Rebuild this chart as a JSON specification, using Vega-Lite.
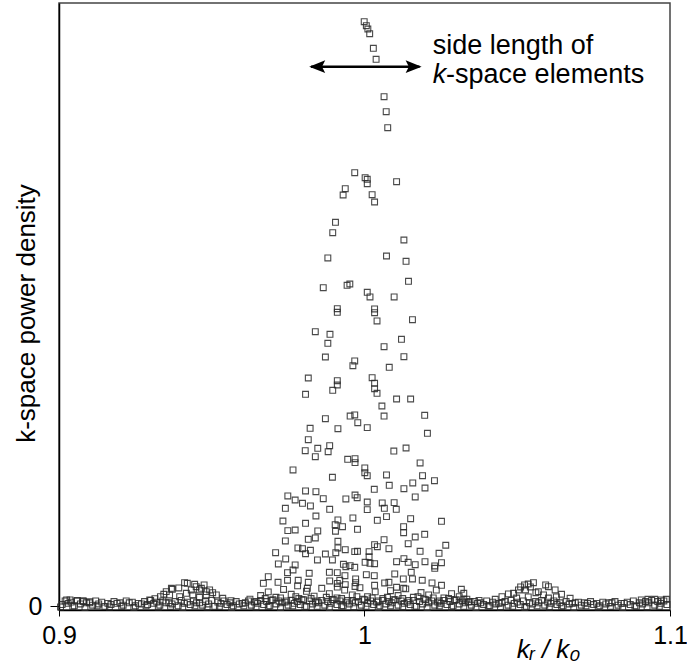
{
"$schema": "https://vega.github.io/schema/vega-lite/v6.json",
"width": 611, "height": 607,
"autosize": "none",
"padding": {"left": 59, "top": 3, "right": 17, "bottom": 55},
"background": "white",
"config": {"view": {"stroke": "#444", "strokeWidth": 1.5}, "font": "Liberation Sans"},
"encoding": {
 "x": {"field": "k", "type": "quantitative", "scale": {"domain": [0.9, 1.1], "nice": false, "zero": false},
  "axis": {"values": [0.9, 1, 1.1], "format": "~g", "title": "kᵣ / k₀", "titleFontStyle": "italic", "titleFontWeight": "normal", "titleFontSize": 26, "titleColor": "black", "titleX": 489, "titleY": 47, "titleAlign": "center", "titleBaseline": "alphabetic", "labelFontSize": 25, "labelColor": "black", "labelPadding": 7, "labelFlush": false, "labelOverlap": false, "labelBound": false, "tickSize": 6, "tickColor": "black", "domainColor": "black", "domainWidth": 1.5, "grid": false}},
 "y": {"field": "p", "type": "quantitative", "scale": {"domain": [-0.006, 1], "nice": false, "zero": false},
  "axis": {"values": [0], "title": "k-space power density", "titleFontWeight": "normal", "titleFontSize": 26, "titleColor": "black", "titleX": -25, "titleY": 310, "titleAngle": 270, "titleAlign": "center", "titleBaseline": "alphabetic", "labelFontSize": 25, "labelColor": "black", "labelPadding": 8, "tickSize": 9, "tickColor": "black", "domainColor": "black", "domainWidth": 1.5, "grid": false}}
},
"layer": [
{"data": {"values": [
{"k":0.9999,"p":0.9690},{"k":1.0006,"p":0.9624},{"k":1.0011,"p":0.9569},{"k":1.0017,"p":0.9491},{"k":1.0029,"p":0.9249},{"k":1.0038,"p":0.9067},{"k":1.0064,"p":0.8447},{"k":1.0071,"p":0.8199},{"k":1.0076,"p":0.7933},
{"k":0.9968,"p":0.7188},{"k":1.0002,"p":0.7105},{"k":1.0009,"p":0.7078},{"k":1.0009,"p":0.7005},{"k":1.0105,"p":0.7038},{"k":0.9937,"p":0.6922},{"k":0.9930,"p":0.6818},{"k":1.0025,"p":0.6823},{"k":1.0033,"p":0.6702},{"k":0.9905,"p":0.6366},{"k":0.9896,"p":0.6193},{"k":1.0129,"p":0.6072},{"k":0.9880,"p":0.5774},{"k":1.0072,"p":0.5807},{"k":1.0136,"p":0.5719},{"k":0.9865,"p":0.5282},{"k":0.9943,"p":0.5322},{"k":0.9952,"p":0.5343},{"k":1.0144,"p":0.5388},{"k":1.0009,"p":0.5206},{"k":1.0018,"p":0.5128},{"k":1.0097,"p":0.5128},{"k":0.9911,"p":0.4934},{"k":0.9911,"p":0.4874},{"k":1.0033,"p":0.4929},{"k":1.0033,"p":0.4867},{"k":1.0041,"p":0.4730},{"k":1.0157,"p":0.4751},{"k":0.9839,"p":0.4553},{"k":0.9887,"p":0.4509},{"k":0.9880,"p":0.4360},{"k":1.0121,"p":0.4427},{"k":1.0064,"p":0.4304},{"k":0.9872,"p":0.4133},{"k":0.9968,"p":0.4067},{"k":0.9962,"p":0.3989},{"k":1.0129,"p":0.4138},{"k":1.0081,"p":0.3963},{"k":0.9816,"p":0.3785},{"k":0.9911,"p":0.3740},{"k":0.9911,"p":0.3669},{"k":0.9896,"p":0.3581},{"k":1.0025,"p":0.3790},{"k":1.0033,"p":0.3697},{"k":1.0033,"p":0.3608},{"k":1.0041,"p":0.3532},{"k":0.9807,"p":0.3515},{"k":1.0105,"p":0.3437},{"k":1.0151,"p":0.3437},
{"k":1.0057,"p":0.3321},{"k":0.9872,"p":0.3111},{"k":0.9953,"p":0.3155},{"k":0.9968,"p":0.3172},{"k":0.9978,"p":0.3044},{"k":1.0064,"p":0.3155},{"k":1.0197,"p":0.3167},{"k":0.9822,"p":0.2952},{"k":0.9913,"p":0.2945},{"k":1.0009,"p":0.2962},{"k":1.0206,"p":0.2869},{"k":0.9816,"p":0.2763},{"k":0.9886,"p":0.2663},{"k":0.9847,"p":0.2620},{"k":0.9806,"p":0.2580},{"k":0.9881,"p":0.2564},{"k":0.9839,"p":0.2481},{"k":1.0096,"p":0.2575},{"k":1.0136,"p":0.2625},{"k":0.9945,"p":0.2438},{"k":0.9969,"p":0.2448},{"k":0.9969,"p":0.2382},{"k":1.0182,"p":0.2377},{"k":1.0001,"p":0.2294},{"k":1.0001,"p":0.2216},{"k":1.0009,"p":0.2166},{"k":0.9766,"p":0.2261},{"k":0.9895,"p":0.2140},{"k":1.0072,"p":0.2178},{"k":1.0190,"p":0.2166},{"k":1.0229,"p":0.2083},{"k":1.0158,"p":0.2045},{"k":1.0081,"p":0.2007},{"k":1.0129,"p":0.1951},{"k":1.0198,"p":0.1962},{"k":1.0032,"p":0.1941},{"k":0.9807,"p":0.1913},{"k":0.9841,"p":0.1901},{"k":0.9865,"p":0.1785},{"k":0.9749,"p":0.1830},{"k":0.9773,"p":0.1763},{"k":0.9797,"p":0.1709},{"k":0.9823,"p":0.1664},{"k":0.9939,"p":0.1780},{"k":0.9969,"p":0.1846},{"k":0.9976,"p":0.1801},{"k":1.0166,"p":0.1813},{"k":1.0009,"p":0.1730},{"k":1.0058,"p":0.1714},{"k":1.0097,"p":0.1719},{"k":0.9741,"p":0.1626},{"k":0.9886,"p":0.1609},{"k":1.0009,"p":0.1603},{"k":1.0065,"p":0.1626},{"k":1.0104,"p":0.1609},{"k":0.9841,"p":0.1498},{"k":0.9962,"p":0.1465},{"k":1.0072,"p":0.1487},{"k":1.0151,"p":0.1453},{"k":1.0252,"p":0.1410},{"k":0.9733,"p":0.1415},{"k":0.9807,"p":0.1377},{"k":0.9913,"p":0.1432},{"k":0.9904,"p":0.1354},{"k":0.9928,"p":0.1321},{"k":1.0042,"p":0.1427},{"k":0.9977,"p":0.1278},{"k":0.9749,"p":0.1255},{"k":0.9773,"p":0.1266},{"k":0.9847,"p":0.1250},{"k":0.9905,"p":0.1245},{"k":1.0128,"p":0.1321},{"k":1.0128,"p":0.1221},{"k":1.0166,"p":0.1150},{"k":1.0197,"p":0.1195},{"k":1.0266,"p":0.1013},{"k":0.9741,"p":0.1084},{"k":0.9816,"p":0.1112},{"k":0.9839,"p":0.1134},{"k":0.9913,"p":0.1079},{"k":1.0064,"p":0.1105},{"k":1.0143,"p":0.1039},{"k":0.9782,"p":0.0968},{"k":0.9797,"p":0.0956},{"k":0.9807,"p":0.0873},{"k":0.9823,"p":0.0930},{"k":0.9913,"p":0.0968},{"k":0.9937,"p":0.0940},{"k":0.9968,"p":0.0907},{"k":0.9977,"p":0.0913},{"k":1.0015,"p":0.0907},{"k":1.0015,"p":0.0824},{"k":1.0033,"p":0.1023},{"k":1.0042,"p":0.0989},{"k":1.0080,"p":0.0956},{"k":0.9709,"p":0.0890},{"k":0.9872,"p":0.0868},{"k":0.9906,"p":0.0890},{"k":0.9846,"p":0.0769},{"k":0.9895,"p":0.0769},{"k":1.0182,"p":0.0913},{"k":1.0244,"p":0.0880},{"k":0.9718,"p":0.0703},{"k":0.9773,"p":0.0686},{"k":0.9742,"p":0.0786},{"k":1.0105,"p":0.0741},{"k":1.0129,"p":0.0791},{"k":1.0143,"p":0.0731},{"k":1.0166,"p":0.0691},{"k":1.0198,"p":0.0741},{"k":1.0230,"p":0.0670},{"k":1.0252,"p":0.0724},{"k":0.9931,"p":0.0698},{"k":0.9939,"p":0.0658},{"k":0.9953,"p":0.0675},{"k":0.9968,"p":0.0648},{"k":1.0002,"p":0.0731},{"k":1.0018,"p":0.0714},{"k":1.0033,"p":0.0708},{"k":0.9685,"p":0.0492},{"k":0.9748,"p":0.0559},{"k":0.9766,"p":0.0603},{"k":0.9819,"p":0.0549},{"k":0.9885,"p":0.0565},{"k":0.9911,"p":0.0559},{"k":0.9936,"p":0.0509},{"k":1.0006,"p":0.0525},{"k":1.0032,"p":0.0509},{"k":1.0099,"p":0.0537},{"k":1.0153,"p":0.0565},{"k":1.0230,"p":0.0631},{"k":0.9669,"p":0.0383},{"k":0.9717,"p":0.0399},{"k":0.9748,"p":0.0433},{"k":0.9783,"p":0.0433},{"k":0.9816,"p":0.0399},{"k":0.9886,"p":0.0421},{"k":0.9919,"p":0.0433},{"k":0.9971,"p":0.0454},{"k":0.9971,"p":0.0393},{"k":1.0066,"p":0.0388},{"k":1.0080,"p":0.0399},{"k":1.0105,"p":0.0317},{"k":1.0127,"p":0.0454},{"k":1.0157,"p":0.0454},{"k":1.0189,"p":0.0433},{"k":1.0221,"p":0.0388},{"k":1.0252,"p":0.0350},{"k":1.0317,"p":0.0283},{"k":1.0325,"p":0.0217},
{"k":0.9660,"p":0.018},{"k":0.9685,"p":0.024},{"k":0.9710,"p":0.015},{"k":0.9735,"p":0.028},{"k":0.9760,"p":0.020},{"k":0.9785,"p":0.013},{"k":0.9810,"p":0.025},{"k":0.9835,"p":0.017},{"k":0.9860,"p":0.030},{"k":0.9885,"p":0.021},{"k":0.9910,"p":0.014},{"k":0.9935,"p":0.027},{"k":0.9960,"p":0.019},{"k":0.9985,"p":0.031},{"k":1.0010,"p":0.016},{"k":1.0035,"p":0.024},{"k":1.0060,"p":0.013},{"k":1.0085,"p":0.026},{"k":1.0110,"p":0.018},{"k":1.0135,"p":0.029},{"k":1.0160,"p":0.015},{"k":1.0185,"p":0.023},{"k":1.0210,"p":0.019},{"k":1.0235,"p":0.027},{"k":1.0260,"p":0.014},{"k":1.0285,"p":0.021},{"k":1.0310,"p":0.016},{"k":1.0335,"p":0.012},
{"k":0.9781,"p":0.034},{"k":0.9911,"p":0.032},{"k":0.9911,"p":0.038},{"k":0.9937,"p":0.036},{"k":0.9969,"p":0.033},{"k":1.0033,"p":0.035},{"k":1.0128,"p":0.030},{"k":0.9813,"p":0.030},
{"k":0.9625,"p":0.012},{"k":0.9645,"p":0.008},{"k":0.9675,"p":0.013},{"k":0.9695,"p":0.010},{"k":0.9725,"p":0.014},{"k":0.9745,"p":0.009},{"k":0.9775,"p":0.016},{"k":0.9795,"p":0.011},{"k":0.9825,"p":0.013},{"k":0.9845,"p":0.009},{"k":0.9875,"p":0.015},{"k":0.9895,"p":0.011},{"k":0.9925,"p":0.013},{"k":0.9945,"p":0.010},{"k":0.9975,"p":0.016},{"k":0.9995,"p":0.012},{"k":1.0025,"p":0.014},{"k":1.0045,"p":0.009},{"k":1.0075,"p":0.015},{"k":1.0095,"p":0.011},{"k":1.0125,"p":0.013},{"k":1.0145,"p":0.010},{"k":1.0175,"p":0.016},{"k":1.0195,"p":0.012},{"k":1.0225,"p":0.014},{"k":1.0245,"p":0.009},{"k":1.0275,"p":0.013},{"k":1.0295,"p":0.010},{"k":1.0325,"p":0.012},{"k":1.0345,"p":0.008},{"k":1.0375,"p":0.010},
{"k":0.9420,"p":0.0383},{"k":0.9444,"p":0.0366},{"k":0.9475,"p":0.0355},{"k":0.9460,"p":0.0272},{"k":0.9482,"p":0.0244},{"k":0.9392,"p":0.0305},{"k":0.9371,"p":0.0283},{"k":0.9351,"p":0.0244},{"k":0.9343,"p":0.0201},{"k":0.9332,"p":0.0161},{"k":0.9314,"p":0.0128},{"k":0.9297,"p":0.0106},{"k":0.9503,"p":0.0227},{"k":0.9515,"p":0.0189},{"k":0.9536,"p":0.0134},{"k":0.9563,"p":0.0094},{"k":0.9411,"p":0.0393},{"k":0.9449,"p":0.0326},{"k":0.9466,"p":0.0300},{"k":0.9493,"p":0.0272},{"k":0.9433,"p":0.0272},{"k":0.9417,"p":0.0217},{"k":0.9368,"p":0.0300},{"k":0.9362,"p":0.0189},{"k":0.9482,"p":0.0189},{"k":0.9438,"p":0.0189},{"k":0.9395,"p":0.0161},{"k":0.9460,"p":0.0151},
{"k":1.0553,"p":0.0393},{"k":1.0536,"p":0.0371},{"k":1.0524,"p":0.0355},{"k":1.0593,"p":0.0355},{"k":1.0602,"p":0.0326},{"k":1.0624,"p":0.0272},{"k":1.0569,"p":0.0244},{"k":1.0561,"p":0.0227},{"k":1.0645,"p":0.0201},{"k":1.0504,"p":0.0272},{"k":1.0488,"p":0.0217},{"k":1.0471,"p":0.0206},{"k":1.0450,"p":0.0161},{"k":1.0673,"p":0.0134},{"k":1.0428,"p":0.0118},{"k":1.0527,"p":0.0272},{"k":1.0543,"p":0.0322},{"k":1.0511,"p":0.0322},{"k":1.0586,"p":0.0189},{"k":1.0536,"p":0.0156},{"k":1.0602,"p":0.0139},{"k":1.0498,"p":0.0139},{"k":1.0628,"p":0.0156},
{"k":0.9025,"p":0.0106},{"k":0.9036,"p":0.0106},{"k":0.9058,"p":0.0089},{"k":0.9079,"p":0.0094},{"k":0.9101,"p":0.0078},{"k":1.0950,"p":0.0118},{"k":1.0972,"p":0.0106},{"k":1.0988,"p":0.0118},{"k":1.0906,"p":0.0106},{"k":1.0928,"p":0.0118},
{"k":0.901,"p":0.003},{"k":0.903,"p":0.005},{"k":0.905,"p":0.001},{"k":0.907,"p":0.004},{"k":0.909,"p":0.006},{"k":0.911,"p":0.002},{"k":0.913,"p":0.004},{"k":0.915,"p":0.000},{"k":0.917,"p":0.003},{"k":0.919,"p":0.005},{"k":0.921,"p":0.002},{"k":0.923,"p":0.006},{"k":0.925,"p":0.001},{"k":0.927,"p":0.004},{"k":0.929,"p":0.003},{"k":0.931,"p":0.005},{"k":0.933,"p":0.002},{"k":0.935,"p":0.006},{"k":0.937,"p":0.004},{"k":0.939,"p":0.001},{"k":0.941,"p":0.005},{"k":0.943,"p":0.003},{"k":0.945,"p":0.006},{"k":0.947,"p":0.002},{"k":0.949,"p":0.004},{"k":0.951,"p":0.000},{"k":0.953,"p":0.005},{"k":0.955,"p":0.003},{"k":0.957,"p":0.001},{"k":0.959,"p":0.004},{"k":0.961,"p":0.006},{"k":0.963,"p":0.002},{"k":0.965,"p":0.005},{"k":0.967,"p":0.003},{"k":0.969,"p":0.001},{"k":0.971,"p":0.004},{"k":0.973,"p":0.006},{"k":0.975,"p":0.002},{"k":0.977,"p":0.005},{"k":0.979,"p":0.003},{"k":0.981,"p":0.000},{"k":0.983,"p":0.004},{"k":0.985,"p":0.006},{"k":0.987,"p":0.002},{"k":0.989,"p":0.005},{"k":0.991,"p":0.003},{"k":0.993,"p":0.001},{"k":0.995,"p":0.004},{"k":0.997,"p":0.006},{"k":0.999,"p":0.002},{"k":1.001,"p":0.005},{"k":1.003,"p":0.003},{"k":1.005,"p":0.001},{"k":1.007,"p":0.004},{"k":1.009,"p":0.006},{"k":1.011,"p":0.002},{"k":1.013,"p":0.005},{"k":1.015,"p":0.003},{"k":1.017,"p":0.000},{"k":1.019,"p":0.004},{"k":1.021,"p":0.006},{"k":1.023,"p":0.002},{"k":1.025,"p":0.005},{"k":1.027,"p":0.003},{"k":1.029,"p":0.001},{"k":1.031,"p":0.004},{"k":1.033,"p":0.006},{"k":1.035,"p":0.002},{"k":1.037,"p":0.005},{"k":1.039,"p":0.003},{"k":1.041,"p":0.001},{"k":1.043,"p":0.004},{"k":1.045,"p":0.006},{"k":1.047,"p":0.002},{"k":1.049,"p":0.005},{"k":1.051,"p":0.003},{"k":1.053,"p":0.000},{"k":1.055,"p":0.004},{"k":1.057,"p":0.006},{"k":1.059,"p":0.002},{"k":1.061,"p":0.005},{"k":1.063,"p":0.003},{"k":1.065,"p":0.001},{"k":1.067,"p":0.004},{"k":1.069,"p":0.006},{"k":1.071,"p":0.002},{"k":1.073,"p":0.005},{"k":1.075,"p":0.003},{"k":1.077,"p":0.001},{"k":1.079,"p":0.004},{"k":1.081,"p":0.006},{"k":1.083,"p":0.002},{"k":1.085,"p":0.005},{"k":1.087,"p":0.003},{"k":1.089,"p":0.000},{"k":1.091,"p":0.004},{"k":1.093,"p":0.006},{"k":1.095,"p":0.002},{"k":1.097,"p":0.005},{"k":1.099,"p":0.003},
{"k":0.902,"p":0.009},{"k":0.904,"p":0.007},{"k":0.906,"p":0.010},{"k":0.908,"p":0.008},{"k":0.910,"p":0.006},{"k":0.912,"p":0.009},{"k":0.914,"p":0.007},{"k":0.916,"p":0.005},{"k":0.918,"p":0.008},{"k":0.920,"p":0.006},{"k":0.922,"p":0.009},{"k":0.924,"p":0.007},{"k":0.926,"p":0.005},{"k":0.928,"p":0.008},{"k":0.930,"p":0.010},{"k":0.932,"p":0.007},{"k":0.934,"p":0.009},{"k":0.936,"p":0.006},{"k":0.938,"p":0.008},{"k":0.940,"p":0.010},{"k":0.942,"p":0.007},{"k":0.944,"p":0.009},{"k":0.946,"p":0.006},{"k":0.948,"p":0.008},{"k":0.950,"p":0.010},{"k":0.952,"p":0.007},{"k":0.954,"p":0.009},{"k":0.956,"p":0.006},{"k":0.958,"p":0.008},{"k":0.960,"p":0.005},{"k":0.962,"p":0.009},{"k":0.964,"p":0.007},{"k":0.966,"p":0.010},{"k":0.968,"p":0.008},{"k":0.970,"p":0.011},{"k":0.972,"p":0.009},{"k":0.974,"p":0.007},{"k":0.976,"p":0.010},{"k":0.978,"p":0.008},{"k":0.980,"p":0.011},{"k":0.982,"p":0.009},{"k":0.984,"p":0.007},{"k":0.986,"p":0.010},{"k":0.988,"p":0.008},{"k":0.990,"p":0.011},{"k":0.992,"p":0.009},{"k":0.994,"p":0.007},{"k":0.996,"p":0.010},{"k":0.998,"p":0.008},{"k":1.000,"p":0.011},{"k":1.002,"p":0.009},{"k":1.004,"p":0.007},{"k":1.006,"p":0.010},{"k":1.008,"p":0.008},{"k":1.010,"p":0.011},{"k":1.012,"p":0.009},{"k":1.014,"p":0.007},{"k":1.016,"p":0.010},{"k":1.018,"p":0.008},{"k":1.020,"p":0.011},{"k":1.022,"p":0.009},{"k":1.024,"p":0.007},{"k":1.026,"p":0.010},{"k":1.028,"p":0.008},{"k":1.030,"p":0.011},{"k":1.032,"p":0.009},{"k":1.034,"p":0.007},{"k":1.036,"p":0.008},{"k":1.038,"p":0.006},{"k":1.040,"p":0.009},{"k":1.042,"p":0.007},{"k":1.044,"p":0.005},{"k":1.046,"p":0.008},{"k":1.048,"p":0.010},{"k":1.050,"p":0.007},{"k":1.052,"p":0.009},{"k":1.054,"p":0.006},{"k":1.056,"p":0.008},{"k":1.058,"p":0.010},{"k":1.060,"p":0.007},{"k":1.062,"p":0.009},{"k":1.064,"p":0.006},{"k":1.066,"p":0.008},{"k":1.068,"p":0.005},{"k":1.070,"p":0.007},{"k":1.072,"p":0.006},{"k":1.074,"p":0.008},{"k":1.076,"p":0.005},{"k":1.078,"p":0.007},{"k":1.080,"p":0.006},{"k":1.082,"p":0.008},{"k":1.084,"p":0.005},{"k":1.086,"p":0.007},{"k":1.088,"p":0.009},{"k":1.090,"p":0.006},{"k":1.092,"p":0.008},{"k":1.094,"p":0.010},{"k":1.096,"p":0.008},{"k":1.098,"p":0.009},
{"k":0.9005,"p":-0.001},{"k":0.9045,"p":0.000},{"k":0.9085,"p":-0.002},{"k":0.9125,"p":0.001},{"k":0.9165,"p":-0.001},{"k":0.9205,"p":0.000},{"k":0.9245,"p":-0.002},{"k":0.9285,"p":0.001},{"k":0.9325,"p":-0.001},{"k":0.9365,"p":0.000},{"k":0.9405,"p":-0.002},{"k":0.9445,"p":0.001},{"k":0.9485,"p":-0.001},{"k":0.9525,"p":0.000},{"k":0.9565,"p":-0.002},{"k":0.9605,"p":0.001},{"k":0.9645,"p":-0.001},{"k":0.9685,"p":0.000},{"k":0.9725,"p":-0.002},{"k":0.9765,"p":0.001},{"k":0.9805,"p":-0.001},{"k":0.9845,"p":0.000},{"k":0.9885,"p":-0.002},{"k":0.9925,"p":0.001},{"k":0.9965,"p":-0.001},{"k":1.0005,"p":0.000},{"k":1.0045,"p":-0.002},{"k":1.0085,"p":0.001},{"k":1.0125,"p":-0.001},{"k":1.0165,"p":0.000},{"k":1.0205,"p":-0.002},{"k":1.0245,"p":0.001},{"k":1.0285,"p":-0.001},{"k":1.0325,"p":0.000},{"k":1.0365,"p":-0.002},{"k":1.0405,"p":0.001},{"k":1.0445,"p":-0.001},{"k":1.0485,"p":0.000},{"k":1.0525,"p":-0.002},{"k":1.0565,"p":0.001},{"k":1.0605,"p":-0.001},{"k":1.0645,"p":0.000},{"k":1.0685,"p":-0.002},{"k":1.0725,"p":0.001},{"k":1.0765,"p":-0.001},{"k":1.0805,"p":0.000},{"k":1.0845,"p":-0.002},{"k":1.0885,"p":0.001},{"k":1.0925,"p":-0.001},{"k":1.0965,"p":0.000}
]},
 "mark": {"type": "point", "shape": "square", "filled": false, "size": 34, "stroke": "#2a2a2a", "strokeWidth": 1.1, "opacity": 0.85}},
{"data": {"values": [{"k": 0.9825, "k2": 1.0180, "p": 0.8944}]},
 "mark": {"type": "rule", "color": "black", "strokeWidth": 2.5},
 "encoding": {"x2": {"field": "k2"}}},
{"data": {"values": [{"k": 0.9819, "p": 0.8944}]},
 "mark": {"type": "point", "shape": "M0,0L2,-0.8L1.6,0L2,0.8Z", "size": 256, "filled": true, "color": "black", "opacity": 1, "strokeWidth": 0}},
{"data": {"values": [{"k": 1.0187, "p": 0.8944}]},
 "mark": {"type": "point", "shape": "M0,0L-2,-0.8L-1.6,0L-2,0.8Z", "size": 256, "filled": true, "color": "black", "opacity": 1, "strokeWidth": 0}},
{"data": {"values": [{"k": 1.0223, "p": 0.9150, "t": "side length of"}, {"k": 1.0267, "p": 0.8669, "t": "-space elements"}]},
 "mark": {"type": "text", "align": "left", "baseline": "alphabetic", "fontSize": 27, "color": "black", "font": "Liberation Sans"},
 "encoding": {"text": {"field": "t"}}},
{"data": {"values": [{"k": 1.0223, "p": 0.8669, "t": "k"}]},
 "mark": {"type": "text", "align": "left", "baseline": "alphabetic", "fontSize": 27, "fontStyle": "italic", "color": "black", "font": "Liberation Sans"},
 "encoding": {"text": {"field": "t"}}}
]
}
